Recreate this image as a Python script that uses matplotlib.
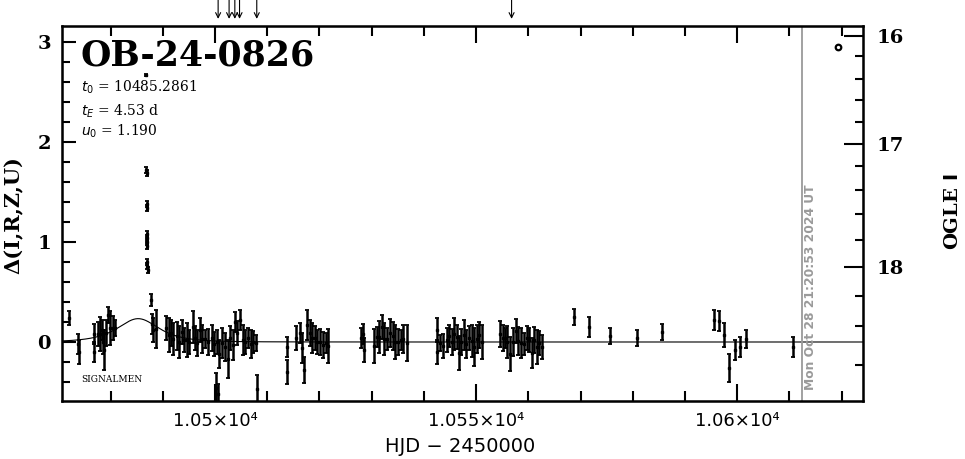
import matplotlib
matplotlib.use('Agg')
import matplotlib.pyplot as plt
import numpy as np

# 事件参数
event_name = 'OB-24-0826'
t0 = 10485.2861
tE = 4.53
u0 = 1.190

# 观测点: HJD-2450000, Δ, 误差
hjd = [10472.0, 10473.8, 10473.9,
       10476.8, 10476.9, 10477.5, 10477.9, 10478.3, 10478.5, 10478.8, 10479.2, 10479.6, 10479.9, 10480.4, 10480.9,
       10486.85, 10486.88, 10486.9, 10486.92, 10486.94, 10486.96, 10486.98, 10487.0, 10487.02, 10487.04, 10487.06, 10487.08,
       10487.7, 10487.9, 10488.1,
       10488.7, 10490.6, 10491.1, 10491.6, 10492.0, 10492.7, 10493.2, 10493.6, 10494.1, 10494.6,
       10495.1, 10495.7, 10496.2, 10496.6, 10497.1, 10497.6, 10498.1, 10498.7, 10499.4, 10499.8,
       10500.2, 10500.3, 10500.5, 10500.8, 10501.4, 10501.9, 10502.4, 10502.9, 10503.4, 10503.8,
       10504.3, 10504.8, 10505.3, 10505.8, 10506.3, 10506.8, 10507.3, 10507.9, 10508.0,
       10513.7, 10513.8, 10515.6, 10516.2, 10516.6, 10517.1, 10517.6, 10518.1, 10518.6, 10519.1,
       10519.6, 10520.1, 10520.6, 10521.2, 10521.7,
       10527.9, 10528.4, 10528.6, 10530.5, 10531.0, 10531.5, 10531.9, 10532.4, 10532.9, 10533.5,
       10534.0, 10534.5, 10535.1, 10535.6, 10536.1, 10536.7,
       10542.5, 10542.6, 10543.1, 10543.7, 10544.4, 10544.9, 10545.3, 10545.8, 10546.3, 10546.7,
       10547.1, 10547.6, 10548.1, 10548.7, 10549.2, 10549.6, 10550.1, 10550.6, 10551.1,
       10554.6, 10555.1, 10555.6, 10556.0, 10556.5, 10557.0, 10557.6, 10558.1, 10558.6, 10559.2,
       10559.7, 10560.2, 10560.7, 10561.1, 10561.6, 10562.1, 10562.6,
       10568.7, 10571.6, 10575.7, 10580.8, 10585.7,
       10595.6, 10596.6, 10597.5, 10598.5, 10599.6, 10600.6, 10601.6, 10610.6]
delta = [0.24, -0.02, -0.10,
         0.08, -0.10, 0.08, 0.08, 0.12, 0.00, -0.08, 0.09, 0.27, 0.14, 0.14, 0.14,
         2.67, 1.72, 1.69, 1.38, 1.34, 1.08, 1.04, 1.00, 0.96, 0.80, 0.76, 0.72,
         0.42, 0.18, 0.12,
         0.13, 0.14, 0.07, 0.09, 0.03, 0.06, 0.00, 0.10, 0.02, 0.02,
         0.00, 0.15, 0.04, -0.01, 0.12, 0.03, 0.03, 0.00, 0.04, -0.02,
         -0.46, 0.00, -0.52, -0.12, -0.01, -0.05, -0.17, 0.04, -0.03, 0.20,
         0.09, 0.22, 0.02, 0.00, 0.04, -0.02, 0.00, -0.01, -0.47,
         -0.05, -0.30, 0.04, 0.09, -0.06, -0.28, 0.17, 0.09, 0.04, 0.04,
         0.00, 0.00, -0.03, -0.01, -0.04,
         0.04, 0.08, -0.08, -0.04, 0.05, 0.05, 0.15, 0.03, 0.03, 0.09,
         0.06, 0.00, 0.00, 0.02, 0.03, -0.01,
         0.12, -0.10, -0.01, -0.04, 0.02, 0.06, 0.00, 0.08, 0.05, -0.11,
         0.00, 0.07, -0.02, 0.04, 0.01, -0.05, 0.03, 0.07, 0.00,
         0.08, 0.04, 0.04, 0.00, -0.12, 0.00, 0.11, 0.01, -0.01, -0.02,
         0.04, 0.02, -0.11, 0.02, -0.05, -0.01, -0.05,
         0.25, 0.15, 0.06, 0.04, 0.10,
         0.22, 0.21, 0.07, -0.26, -0.08, -0.05, 0.03, -0.05]
err = [0.07, 0.10, 0.12,
       0.10, 0.10, 0.12, 0.17, 0.10, 0.12, 0.20, 0.13, 0.08, 0.17, 0.12, 0.08,
       0.01, 0.03, 0.03, 0.03, 0.03, 0.03, 0.03, 0.03, 0.03, 0.03, 0.03, 0.03,
       0.06, 0.10, 0.12,
       0.19, 0.12, 0.17, 0.13, 0.16, 0.14, 0.16, 0.12, 0.12, 0.17,
       0.12, 0.16, 0.12, 0.13, 0.12, 0.14, 0.09, 0.13, 0.13, 0.12,
       0.15, 0.12, 0.10, 0.14, 0.15, 0.14, 0.19, 0.12, 0.15, 0.10,
       0.12, 0.10, 0.15, 0.12, 0.10, 0.14, 0.11, 0.08, 0.14,
       0.10, 0.12, 0.12, 0.10, 0.15, 0.13, 0.15, 0.13, 0.15, 0.12,
       0.12, 0.13, 0.13, 0.10, 0.17,
       0.10, 0.10, 0.12, 0.17, 0.10, 0.16, 0.12, 0.16, 0.11, 0.14,
       0.14, 0.17, 0.13, 0.10, 0.14, 0.18,
       0.12, 0.12, 0.08, 0.12, 0.12, 0.11, 0.13, 0.16, 0.12, 0.17,
       0.13, 0.15, 0.14, 0.12, 0.16, 0.19, 0.14, 0.13, 0.17,
       0.13, 0.13, 0.10, 0.16, 0.17, 0.14, 0.12, 0.14, 0.15, 0.11,
       0.12, 0.12, 0.15, 0.13, 0.17, 0.12, 0.12,
       0.08, 0.10, 0.08, 0.08, 0.08,
       0.10, 0.10, 0.12, 0.14, 0.10, 0.10, 0.09, 0.10]

# OGLE 点
ogle_hjd = [10619.3]
ogle_delta = [2.95]

# 顶部箭头
arrow_hjd = [10500.6, 10502.7, 10503.8, 10504.7, 10508.0, 10556.8]

# 右轴 OGLE I 刻度 (对应的 Δ 位置)
ogle_major_pos = [3.055, 1.98, 0.75]
ogle_major_lab = ['16', '17', '18']
ogle_minor_pos = [2.86, 2.625, 2.42, 2.20, 1.76, 1.52, 1.28, 1.025, 0.46, 0.16, -0.23]

now_hjd = 10612.5
stamp = 'Mon Oct 28 21:20:53 2024 UT'

xticks = [10500, 10550, 10600]
xtick_labels = ['1.05×10⁴', '1.055×10⁴', '1.06×10⁴']

fig = plt.figure(figsize=(9.65, 4.59), dpi=100)
ax = fig.add_axes([62/965, 58/459, 801/965, 375/459])
xmin, xmax = 10470.7, 10624.1
ax.set_xlim(xmin, xmax)
ax.set_ylim(-0.59, 3.16)

# 模型曲线
t = np.linspace(xmin, xmax, 2000)
u = np.sqrt(u0**2 + ((t - t0) / tE)**2)
A = (u**2 + 2) / (u * np.sqrt(u**2 + 4))
ax.plot(t, A - 1, color='black', lw=0.8)

ax.errorbar(hjd, delta, yerr=err, fmt='s', ms=1.8, color='black',
            ecolor='black', elinewidth=1.8, capsize=1.5, capthick=1.3)
ax.plot(ogle_hjd, ogle_delta, 'o', ms=4, mfc='white', mec='black', mew=1.6)

ax.axvline(now_hjd, color='#9a9a9a', lw=1.3)
ax.text(now_hjd + 1.6, -0.48, stamp, rotation=90, color='#9a9a9a',
        fontsize=8.8, fontweight='bold', ha='center', va='bottom',
        family='DejaVu Sans')

for d in arrow_hjd:
    ax.annotate('', xy=(d, 1.019), xycoords=('data', 'axes fraction'),
                xytext=(d, 1.075), textcoords=('data', 'axes fraction'),
                arrowprops=dict(arrowstyle='->', lw=0.8, color='black',
                                mutation_scale=9, shrinkA=0, shrinkB=0),
                annotation_clip=False)

ax.text(10474.2, 2.86, event_name, fontsize=25, fontweight='bold',
        family='DejaVu Serif', va='center', ha='left')
ax.text(10474.3, 2.55, '$t_0$ = 10485.2861', fontsize=10, family='DejaVu Serif', va='center')
ax.text(10474.3, 2.31, '$t_E$ = 4.53 d', fontsize=10, family='DejaVu Serif', va='center')
ax.text(10474.3, 2.11, '$u_0$ = 1.190', fontsize=10, family='DejaVu Serif', va='center')
ax.text(10474.4, -0.38, 'SIGNALMEN', fontsize=6.5, family='DejaVu Serif', va='center')

ax.set_xticks(xticks)
ax.set_xticklabels(xtick_labels, fontsize=13, family='DejaVu Sans', fontweight='medium')
ax.set_xticks(np.arange(10480, 10621, 10), minor=True)
ax.set_yticks([0, 1, 2, 3])
ax.set_yticklabels(['0', '1', '2', '3'], fontsize=14, fontweight='bold', family='DejaVu Serif')
ax.set_yticks(np.arange(-0.4, 3.1, 0.2), minor=True)
ax.tick_params(which='both', direction='in', top=True, right=False, width=1.5)
ax.tick_params(axis='x', which='major', length=12, pad=8)
ax.tick_params(axis='x', which='minor', length=7)
ax.tick_params(axis='y', which='major', length=10, pad=8)
ax.tick_params(axis='y', which='minor', length=6)
for s in ax.spines.values():
    s.set_linewidth(1.8)

ax2 = ax.twinx()
ax2.set_ylim(ax.get_ylim())
ax2.set_yticks(ogle_major_pos)
ax2.set_yticklabels(ogle_major_lab, fontsize=14, fontweight='bold', family='DejaVu Serif')
ax2.set_yticks(ogle_minor_pos, minor=True)
ax2.tick_params(which='both', direction='in', width=1.5, pad=10)
ax2.tick_params(which='major', length=14)
ax2.tick_params(which='minor', length=6)

fig.text(460/965, 1 - 447/459, 'HJD − 2450000', fontsize=14, family='DejaVu Sans',
         ha='center', va='center')
fig.text(14/965, 1 - 215/459, 'Δ(I,R,Z,U)', fontsize=15, family='DejaVu Serif',
         fontweight='bold', rotation=90, ha='center', va='center')
fig.text(953/965, 1 - 212/459, 'OGLE $\\mathbf{I}$', fontsize=14, family='DejaVu Serif',
         fontweight='bold', rotation=90, ha='center', va='center')

fig.savefig('out.png', dpi=100)
